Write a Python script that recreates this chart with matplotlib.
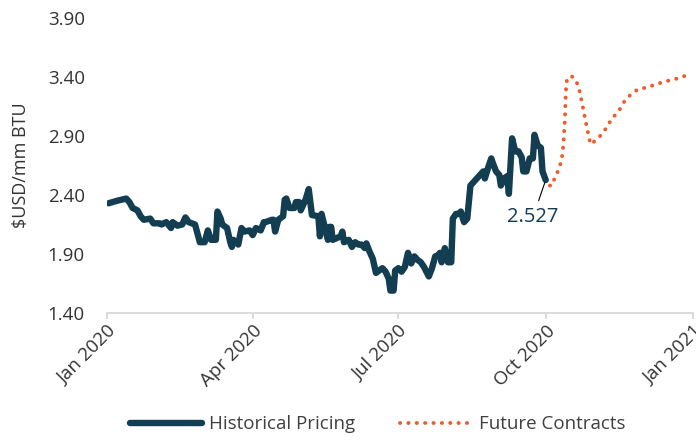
import matplotlib.pyplot as plt
import matplotlib.dates as mdates
import pandas as pd

plt.rcParams['font.family'] = ['Open Sans', 'DejaVu Sans']

# historical daily pricing
hist_dates = [
    "2020-01-02", "2020-01-07", "2020-01-13", "2020-01-15", "2020-01-17", "2020-01-20",
    "2020-01-22", "2020-01-24", "2020-01-28", "2020-01-30", "2020-02-03", "2020-02-04",
    "2020-02-07", "2020-02-10", "2020-02-11", "2020-02-14", "2020-02-17", "2020-02-19",
    "2020-02-21", "2020-02-25", "2020-02-26", "2020-02-28", "2020-03-02", "2020-03-04",
    "2020-03-06", "2020-03-09", "2020-03-10", "2020-03-12", "2020-03-13", "2020-03-16",
    "2020-03-18", "2020-03-19", "2020-03-20", "2020-03-23", "2020-03-25", "2020-03-27",
    "2020-03-30", "2020-04-01", "2020-04-03", "2020-04-06", "2020-04-08", "2020-04-09",
    "2020-04-13", "2020-04-14", "2020-04-15", "2020-04-17", "2020-04-20", "2020-04-21",
    "2020-04-22", "2020-04-24", "2020-04-27", "2020-04-28", "2020-04-30", "2020-05-01",
    "2020-05-04", "2020-05-06", "2020-05-07", "2020-05-08", "2020-05-12", "2020-05-13",
    "2020-05-14", "2020-05-18", "2020-05-19", "2020-05-20", "2020-05-21", "2020-05-26",
    "2020-05-27", "2020-05-28", "2020-05-31", "2020-06-02", "2020-06-04", "2020-06-06",
    "2020-06-08", "2020-06-10", "2020-06-11", "2020-06-13", "2020-06-15", "2020-06-17",
    "2020-06-19", "2020-06-21", "2020-06-23", "2020-06-25", "2020-06-26", "2020-06-28",
    "2020-06-29", "2020-07-01", "2020-07-03", "2020-07-05", "2020-07-07", "2020-07-09",
    "2020-07-11", "2020-07-13", "2020-07-15", "2020-07-17", "2020-07-20", "2020-07-22",
    "2020-07-24", "2020-07-26", "2020-07-27", "2020-07-28", "2020-07-30", "2020-08-01",
    "2020-08-03", "2020-08-04", "2020-08-06", "2020-08-08", "2020-08-09", "2020-08-11",
    "2020-08-13", "2020-08-15", "2020-08-17", "2020-08-19", "2020-08-21", "2020-08-23",
    "2020-08-24", "2020-08-26", "2020-08-28", "2020-08-29", "2020-08-31", "2020-09-02",
    "2020-09-03", "2020-09-05", "2020-09-07", "2020-09-08", "2020-09-10", "2020-09-12",
    "2020-09-14", "2020-09-16", "2020-09-17", "2020-09-19", "2020-09-21", "2020-09-23",
    "2020-09-24", "2020-09-26", "2020-09-28", "2020-09-29", "2020-10-01",
]
hist_prices = [
    2.33, 2.35, 2.37, 2.34, 2.29, 2.27,
    2.22, 2.19, 2.20, 2.16, 2.16, 2.15,
    2.17, 2.12, 2.17, 2.14, 2.15, 2.21,
    2.17, 2.15, 2.10, 2.00, 2.00, 2.10,
    2.02, 2.02, 2.26, 2.20, 2.15, 2.12,
    2.00, 1.96, 2.02, 1.98, 2.12, 2.09,
    2.10, 2.06, 2.12, 2.10, 2.17, 2.17,
    2.19, 2.19, 2.09, 2.19, 2.22, 2.36,
    2.37, 2.29, 2.29, 2.34, 2.34, 2.27,
    2.36, 2.45, 2.34, 2.23, 2.22, 2.05,
    2.24, 2.02, 2.13, 2.13, 2.02, 2.05,
    2.09, 2.00, 2.02, 1.96, 2.00, 1.98,
    1.98, 1.95, 1.99, 1.92, 1.86, 1.74,
    1.76, 1.78, 1.75, 1.69, 1.59, 1.59,
    1.76, 1.78, 1.75, 1.79, 1.91, 1.82,
    1.88, 1.85, 1.83, 1.79, 1.71, 1.78,
    1.88, 1.89, 1.91, 1.83, 1.95, 1.83,
    1.83, 2.20, 2.24, 2.24, 2.26, 2.17,
    2.20, 2.48, 2.51, 2.54, 2.57, 2.60,
    2.54, 2.63, 2.71, 2.67, 2.60, 2.57,
    2.48, 2.54, 2.56, 2.41, 2.88, 2.77,
    2.77, 2.72, 2.60, 2.60, 2.71, 2.71,
    2.91, 2.82, 2.80, 2.60, 2.527,
]

# futures curve
fut_dates = [
    "2020-10-01 00:00", "2020-10-02 00:00", "2020-10-05 00:00", "2020-10-07 00:00",
    "2020-10-09 00:00", "2020-10-11 00:00", "2020-10-12 00:00", "2020-10-13 00:00",
    "2020-10-13 12:00", "2020-10-14 00:00", "2020-10-15 00:00", "2020-10-17 00:00",
    "2020-10-20 00:00", "2020-10-22 00:00", "2020-10-24 00:00", "2020-10-26 00:00",
    "2020-10-28 00:00", "2020-10-29 00:00", "2020-10-31 00:00", "2020-11-04 00:00",
    "2020-11-08 00:00", "2020-11-11 00:00", "2020-11-16 00:00", "2020-11-19 00:00",
    "2020-11-23 00:00", "2020-11-27 00:00", "2020-12-05 00:00", "2020-12-14 00:00",
    "2020-12-23 00:00", "2020-12-31 00:00",
]
fut_prices = [
    2.527, 2.48, 2.48, 2.56,
    2.61, 2.70, 2.82, 3.04,
    3.25, 3.36, 3.39, 3.41,
    3.37, 3.29, 3.16, 3.02,
    2.89, 2.83, 2.85, 2.90,
    2.97, 3.04, 3.12, 3.19,
    3.25, 3.29, 3.32, 3.36,
    3.39, 3.43,
]

hist_x = pd.to_datetime(hist_dates)
fut_x = pd.to_datetime(fut_dates, format="%Y-%m-%d %H:%M")

navy = "#133d51"
orange = "#f15a29"

fig = plt.figure(figsize=(6.96, 4.45), dpi=100)
ax = fig.add_axes([0.1537, 0.2966, 0.842, 0.663])

ax.plot(hist_x, hist_prices, color=navy, lw=4.6, solid_joinstyle="round",
        solid_capstyle="round", label="Historical Pricing", zorder=3)
ax.plot(fut_x, fut_prices, color=orange, lw=2.8, linestyle=(0, (0.05, 2.1)),
        dash_capstyle="round", label="Future Contracts", zorder=2)

ax.annotate("2.527", xy=(hist_x[-1], hist_prices[-1]),
            xytext=(pd.Timestamp("2020-09-23"), 2.21),
            ha="center", va="center", fontsize=14.5, color=navy,
            arrowprops=dict(arrowstyle="-", color="black", lw=0.8,
                            shrinkA=3, shrinkB=2))

ax.set_xlim(pd.Timestamp("2020-01-01"), pd.Timestamp("2021-01-01"))
ax.set_ylim(1.40, 3.90)
ax.set_yticks([1.40, 1.90, 2.40, 2.90, 3.40, 3.90])
ax.yaxis.set_major_formatter(plt.FuncFormatter(lambda v, p: f"{v:.2f}"))
ax.xaxis.set_major_locator(mdates.MonthLocator(bymonth=[1, 4, 7, 10]))
ax.xaxis.set_major_formatter(mdates.DateFormatter("%b %Y"))

for s in ["top", "right", "left"]:
    ax.spines[s].set_visible(False)
ax.spines["bottom"].set_color("#d9d9d9")
ax.spines["bottom"].set_linewidth(1.3)
ax.tick_params(axis="x", colors="#d9d9d9", length=4.5, width=1.3, labelcolor="#333333",
               labelsize=13.5, pad=2)
ax.tick_params(axis="y", length=0, labelcolor="#333333", labelsize=13.5, pad=16)
for lab in ax.get_xticklabels():
    lab.set_rotation(45)
    lab.set_ha("right")
    lab.set_rotation_mode("anchor")

ax.set_ylabel("$USD/mm BTU", fontsize=13, color="#333333", labelpad=13)

fig.legend(loc="lower center", bbox_to_anchor=(0.543, -0.012), ncol=2, frameon=False,
           handlelength=3.8, handletextpad=0.4, columnspacing=2.4, fontsize=13.5,
           labelcolor="#404040")

fig.savefig("out.png", dpi=100)
